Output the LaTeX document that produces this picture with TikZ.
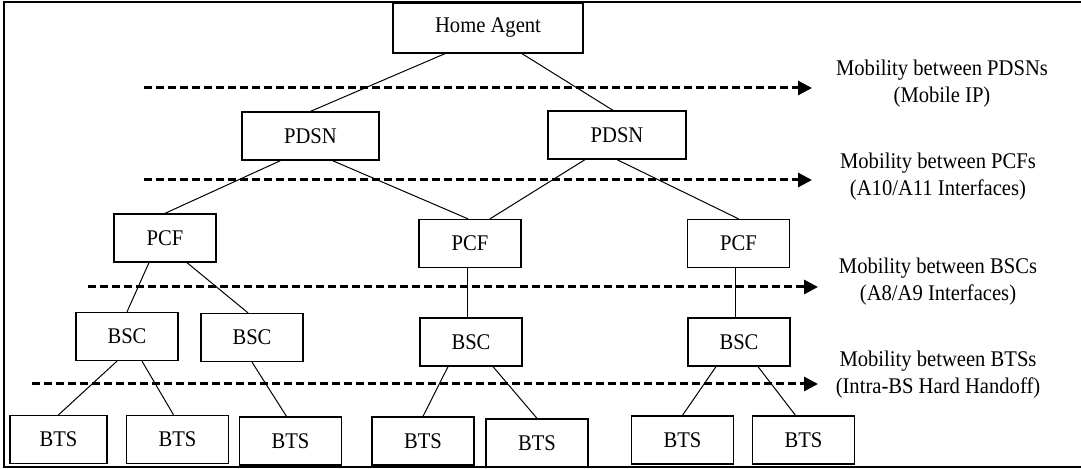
\documentclass[tikz,border=0pt]{standalone}
\usepackage{fontspec}
\setmainfont{Liberation Serif}[FakeStretch=0.92]
\usetikzlibrary{arrows.meta,calc}

\tikzset{
  netbox/.style={draw, line width=0.65pt, minimum width=51pt, minimum height=24pt, inner sep=0pt},
  wire/.style={line width=0.5pt},
  mobline/.style={line width=1.5pt, dash pattern=on 4pt off 2pt, -{Triangle[length=7pt,width=7pt]}},
  moblabel/.style={align=center, inner sep=0pt},
}

\begin{document}
\begin{tikzpicture}[x=0.5pt,y=-0.5pt,font=\fontsize{11.2}{13.5}\selectfont]
  \useasboundingbox (0,0) rectangle (1081,469);
  \draw[line width=1.2pt] (1081,2) -- (4,2) -- (4,467) -- (1081,467);

  % nodes
  \node[netbox, minimum width=95pt, minimum height=25pt] (ha) at (488,28) {Home Agent};
  \node[netbox, minimum width=68.5pt] (pdsnA) at (310.5,136) {PDSN};
  \node[netbox, minimum width=69pt] (pdsnB) at (617,135) {PDSN};
  \node[netbox] (pcfA) at (165,238) {PCF};
  \node[netbox] (pcfB) at (470,243.5) {PCF};
  \node[netbox] (pcfC) at (738.5,243.5) {PCF};
  \node[netbox] (bscA) at (127,336.5) {BSC};
  \node[netbox] (bscB) at (252,337.5) {BSC};
  \node[netbox] (bscC) at (471,342) {BSC};
  \node[netbox] (bscD) at (739,342) {BSC};
  \node[netbox, minimum width=48.5pt] (btsA) at (58.5,439.5) {BTS};
  \node[netbox] (btsB) at (177.5,439.5) {BTS};
  \node[netbox] (btsC) at (290.5,441) {BTS};
  \node[netbox] (btsD) at (423,441) {BTS};
  \node[netbox] (btsE) at (537,443) {BTS};
  \node[netbox] (btsF) at (682.5,440) {BTS};
  \node[netbox] (btsG) at (803.5,440) {BTS};

  % links
  \draw[wire] ($(ha.south)+(-43,0)$) -- (pdsnA.north);
  \draw[wire] ($(ha.south)+(34,0)$) -- ($(pdsnB.north)+(-4,0)$);
  \draw[wire] ($(pdsnA.south)+(-30,0)$) -- (pcfA.north);
  \draw[wire] ($(pdsnA.south)+(22,0)$) -- ($(pcfB.north)+(-2,0)$);
  \draw[wire] ($(pdsnB.south)+(-32,0)$) -- ($(pcfB.north)+(20,0)$);
  \draw[wire] (pdsnB.south) -- (pcfC.north);
  \draw[wire] ($(pcfA.south)+(-16,0)$) -- (bscA.north);
  \draw[wire] ($(pcfA.south)+(22,0)$) -- ($(bscB.north)+(-4,0)$);
  \draw[wire] ($(pcfB.south)+(-3,0)$) -- ($(bscC.north)+(-4,0)$);
  \draw[wire] ($(pcfC.south)+(-3.5,0)$) -- ($(bscD.north)+(-4,0)$);
  \draw[wire] ($(bscA.south)+(-10,0)$) -- (btsA.north);
  \draw[wire] ($(bscA.south)+(15,0)$) -- ($(btsB.north)+(-4,0)$);
  \draw[wire] (bscB.south) -- ($(btsC.north)+(-4,0)$);
  \draw[wire] ($(bscC.south)+(-23,0)$) -- (btsD.north);
  \draw[wire] ($(bscC.south)+(22,0)$) -- (btsE.north);
  \draw[wire] ($(bscD.south)+(-23,0)$) -- (btsF.north);
  \draw[wire] ($(bscD.south)+(19,0)$) -- ($(btsG.north)+(-8,0)$);

  % mobility levels
  \foreach \y/\xa/\xb in {88/144/812, 180/144/812, 287/88/818, 384/32/818}
    \draw[mobline] (\xa,\y) -- (\xb,\y);
  \node[moblabel] (mobA) at (942,83.5) {Mobility between PDSNs\\(Mobile IP)};
  \node[moblabel] (mobB) at (938,176.5) {Mobility between PCFs\\(A10/A11 Interfaces)};
  \node[moblabel] (mobC) at (938,281.5) {Mobility between BSCs\\(A8/A9 Interfaces)};
  \node[moblabel] (mobD) at (938,374.5) {Mobility between BTSs\\(Intra-BS Hard Handoff)};
\end{tikzpicture}
\end{document}
